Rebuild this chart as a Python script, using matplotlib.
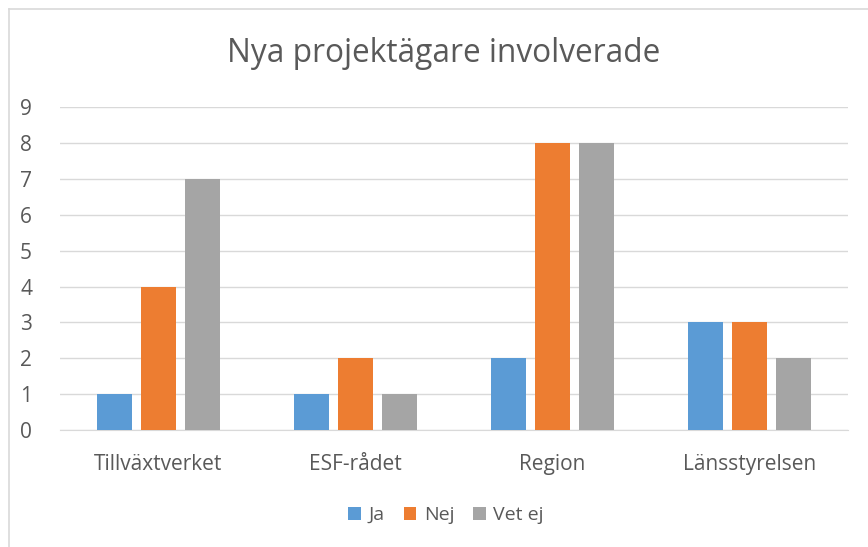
import numpy as np
import matplotlib.pyplot as plt
from matplotlib.lines import Line2D

plt.rcParams['font.family'] = ['Open Sans', 'DejaVu Sans']

categories = ["Tillväxtverket", "ESF-rådet", "Region", "Länsstyrelsen"]
series = ["Ja", "Nej", "Vet ej"]
ja = [1, 1, 2, 3]
nej = [4, 2, 8, 3]
vet_ej = [7, 1, 8, 2]
colors = ["#5B9BD5", "#ED7D31", "#A5A5A5"]

W, H = 868, 547
fig = plt.figure(figsize=(W / 100, H / 100), dpi=100)
# chart border (only top and left edges visible in the crop)
bx, by = 8.5 / W, 1 - 8.5 / H
fig.lines.append(Line2D([bx, bx], [0, by], transform=fig.transFigure, color="#D9D9D9", lw=1.2))
fig.lines.append(Line2D([bx, 1], [by, by], transform=fig.transFigure, color="#D9D9D9", lw=1.2))

ax = fig.add_axes([0.069, 0.214, 0.908, 0.590])

x = np.arange(len(categories))
width = 0.178
step = 0.223
for i, (vals, name) in enumerate(zip([ja, nej, vet_ej], series)):
    ax.bar(x + (i - 1) * step, vals, width, color=colors[i], label=name, zorder=3)

ax.set_xlim(-0.5, len(categories) - 0.5)
ax.set_ylim(0, 9)
ax.set_yticks(range(10))
ax.grid(axis="y", color="#D9D9D9", linewidth=1, zorder=0)
ax.set_xticks(x)
ax.set_xticklabels(categories)
for s in ["top", "right", "left"]:
    ax.spines[s].set_visible(False)
ax.spines["bottom"].set_color("#D9D9D9")
ax.tick_params(axis="both", length=0, labelsize=15, colors="#595959")
ax.tick_params(axis="x", pad=17)
ax.tick_params(axis="y", pad=20)

fig.text(0.5115, 0.903, "Nya projektägare involverade", ha="center", va="center",
         fontsize=22.8, color="#595959")
fig.legend(loc="center", bbox_to_anchor=(0.514, 0.058), ncol=3, frameon=False,
           fontsize=14, handlelength=0.65, handleheight=0.65, columnspacing=0.95,
           handletextpad=0.4, labelcolor="#595959")

fig.savefig("out.png", dpi=100)
